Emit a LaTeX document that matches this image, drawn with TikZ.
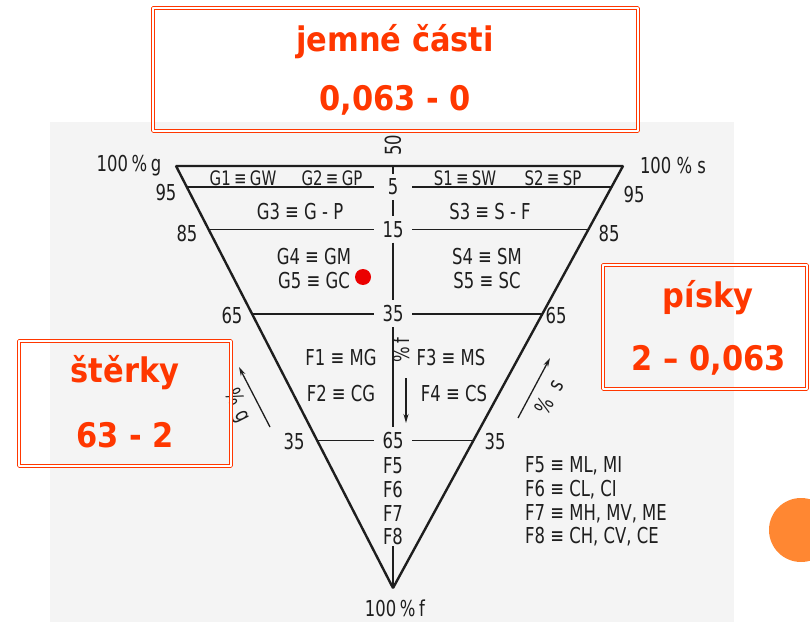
\documentclass[tikz,border=0pt]{standalone}
\usepackage{fontspec}
\newfontfamily\scanfont[FakeStretch=0.75]{DejaVu Sans}
\newfontfamily\boxfont[FakeStretch=0.9]{DejaVu Sans}
\usetikzlibrary{positioning,calc,arrows.meta}
\definecolor{boxred}{RGB}{255,55,0}
\definecolor{dotred}{RGB}{235,0,0}
\definecolor{scangray}{RGB}{244,244,244}
\definecolor{ballorange}{RGB}{255,135,50}
\definecolor{ink}{RGB}{30,30,30}
\tikzset{
  lab/.style={font=\scanfont\fontsize{22}{22}\selectfont, text=ink, inner sep=1bp},
  small/.style={font=\scanfont\fontsize{20}{20}\selectfont, text=ink, inner sep=1bp},
  cnum/.style={lab, inner sep=5bp, minimum width=38bp},
  edge/.style={draw=ink, line width=2.4bp},
  band/.style={draw=ink, line width=1.3bp},
  vline/.style={draw=ink, line width=1.8bp},
  pct/.style={draw=ink, line width=1.3bp, -{Stealth[length=9bp,width=5bp]}},
  redbox/.style={draw=boxred, line width=1.1bp, double=white, double distance=2.2bp, inner sep=0pt},
  boxtext/.style={font=\boxfont\bfseries\fontsize{34}{34}\selectfont, text=boxred, inner sep=0pt}
}

\begin{document}
\begin{tikzpicture}[x=1bp,y=-1bp,line join=bevel]
    \useasboundingbox (0,0) rectangle (810,626);
    \fill[scangray] (50,122) rectangle (734,622);

    \coordinate (g) at (176,166);
    \coordinate (s) at (623,166);
    \coordinate (f) at (393,588);
    \coordinate (top) at (393,166);

    % points on the two sides, by % of fines
    \foreach \p/\t in {5/0.05,15/0.15,35/0.35,65/0.65} {
        \coordinate (g\p) at ($(g)!\t!(f)$);
        \coordinate (s\p) at ($(s)!\t!(f)$);
    }

    % centre scale
    \node[lab, rotate=90] (n50) at (393,145) {50};
    \node[cnum] (n5) at (top |- g5) {5};
    \node[cnum] (n15) at (top |- g15) {15};
    \node[cnum] (n35) at (top |- g35) {35};
    \node[cnum] (n65) at (top |- g65) {65};
    \foreach \i/\y in {5/466,6/490,7/514,8/537}
        \node[lab] (F\i) at (393,\y) {F\i};
    \node[lab] (pf) at (395,608) {100\,\%\,f};

    \draw[edge] (g) -- (s) -- (f) -- cycle;
    \draw[band, line width=1.6bp] (g5) -- (n5) -- (s5);
    \draw[band] (g15) -- (n15) -- (s15);
    \draw[edge] (g35) -- (n35) -- (s35);
    \draw[band] (g65) -- (n65) -- (s65);
    \draw[vline] (top) -- (n5);
    \draw[vline] (n5) -- (n15);
    \draw[vline] (n15) -- (n35);
    \draw[vline] (n35) -- (n65);
    \draw[vline] (F8) -- (f);

    % side values
    \node[lab] (pg) at (129,166) {100\,\%\,g};
    \node[lab] (lg95) at (166,193) {95};
    \node[lab] (lg85) at (187,234) {85};
    \node[lab] (lg65) at (232,316) {65};
    \node[lab] (lg35) at (294,442) {35};
    \node[lab] (ps) at (673,166) {100 \% s};
    \node[lab] (ls95) at (634,195) {95};
    \node[lab] (ls85) at (609,234) {85};
    \node[lab] (ls65) at (556,316) {65};
    \node[lab] (ls35) at (495,442) {35};

    % soil groups
    \node[small] (G1) at (243,178) {G1\,≡\,GW};
    \node[small] (G2) at (332,178) {G2\,≡\,GP};
    \node[small] (S1) at (465,178) {S1\,≡\,SW};
    \node[small] (S2) at (553,178) {S2\,≡\,SP};
    \node[lab] (G3) at (300,212) {G3 ≡ G - P};
    \node[lab] (S3) at (490,212) {S3 ≡ S - F};
    \node[lab] (G4) at (314,257) {G4 ≡ GM};
    \node[lab] (G5) at (314,281) {G5 ≡ GC};
    \node[lab] (S4) at (487,257) {S4 ≡ SM};
    \node[lab] (S5) at (487,281) {S5 ≡ SC};
    \node[lab] (F1) at (341,358) {F1 ≡ MG};
    \node[lab] (F2) at (341,394) {F2 ≡ CG};
    \node[lab] (F3) at (451,358) {F3 ≡ MS};
    \node[lab] (F4) at (454,394) {F4 ≡ CS};
    \node[lab, anchor=west] (k5) at (524,466) {F5 ≡ ML, MI};
    \node[lab, anchor=west] (k6) at (524,490) {F6 ≡ CL, CI};
    \node[lab, anchor=west] (k7) at (524,514) {F7 ≡ MH, MV, ME};
    \node[lab, anchor=west] (k8) at (524,537) {F8 ≡ CH, CV, CE};

    % direction of the percentages
    \coordinate (ag1) at (270,427);
    \coordinate (ag2) at (239,367);
    \coordinate (as1) at (518,418);
    \coordinate (as2) at (550,358);
    \coordinate (af1) at (406,378);
    \coordinate (af2) at (406,423);
    \draw[pct] (ag1) -- (ag2);
    \draw[pct] (as1) -- (as2);
    \draw[pct] (af1) -- (af2);
    \node[lab, rotate=-63] (pcg) at (237,406) {\%\hspace{8bp}g};
    \node[lab, rotate=61] (pcs) at (549,397) {\%\hspace{12bp}s};
    \node[lab, rotate=90] (pcf) at (401,350) {\%\,f};

    \fill[dotred] (363,277) circle (8);

    % fractions
    \node[redbox, minimum width=485bp, minimum height=123bp] (fines) at (395.5,69.5) {};
    \node[boxtext] (finesname) at (395,42) {jemné části};
    \node[boxtext] (finessize) at (395,100) {0,063 - 0};
    \node[redbox, minimum width=212bp, minimum height=125bp] (gravel) at (125,403.5) {};
    \node[boxtext] (gravelname) at (125,373) {štěrky};
    \node[boxtext] (gravelsize) at (125,435) {63 - 2};
    \node[redbox, minimum width=204bp, minimum height=124bp] (sand) at (705,327) {};
    \node[boxtext] (sandname) at (708,298) {písky};
    \node[boxtext] (sandsize) at (709,360) {2 – 0,063};

    \fill[ballorange] (801,530) circle (32);
\end{tikzpicture}
\end{document}
